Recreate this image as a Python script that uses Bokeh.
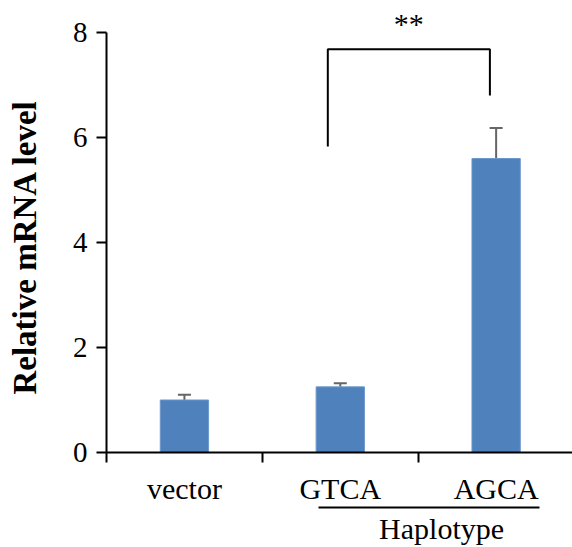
from bokeh.plotting import figure
from bokeh.models import (Range1d, LinearAxis, FixedTicker, ColumnDataSource,
                          Whisker, TeeHead)
from bokeh.core.properties import value
from bokeh.embed import file_html
from bokeh.resources import INLINE

# ---- data ----
categories = ["vector", "GTCA", "AGCA"]
means = [1.0, 1.25, 5.6]
errors = [0.10, 0.07, 0.58]
y_ticks = [0, 2, 4, 6, 8]
group_label = "Haplotype"
group_members = ["GTCA", "AGCA"]
sig_pair = ["GTCA", "AGCA"]
sig_text = "**"
sig_heights = [5.83, 7.68, 6.8]   # left leg bottom, bracket top, right leg bottom

FONT = "Liberation Serif"
BLUE = "#4F81BD"

xs = [i + 0.5 for i in range(len(categories))]
uppers = [m + e for m, e in zip(means, errors)]
src = ColumnDataSource(dict(x=xs, top=means, upper=uppers, cat=categories))

p = figure(frame_width=466, frame_height=444, output_backend="svg", toolbar_location=None,
           x_range=Range1d(0, 2.99), y_range=Range1d(0, 8.457),
           min_border_left=106, min_border_top=8, min_border_right=0,
           min_border_bottom=0, x_axis_type=None, y_axis_type=None)
p.outline_line_color = None
p.xgrid.visible = False
p.ygrid.visible = False
p.background_fill_color = "white"

# bars
p.vbar(x="x", top="top", width=0.31, bottom=0, source=src,
       fill_color=BLUE, line_color="#6E98CC", line_width=1)

# error bars (upper only)
w = Whisker(base="x", lower="top", upper="upper", source=src,
            line_color="#666666", line_width=2, lower_head=None,
            upper_head=TeeHead(size=13, line_color="#666666", line_width=2))
p.add_layout(w)

# significance bracket
i0 = categories.index(sig_pair[0])
i1 = categories.index(sig_pair[1])
bx0 = xs[i0] - 0.08
bx1 = xs[i1] - 0.04
p.line([bx0, bx0, bx1, bx1], sig_heights[0:1] + sig_heights[1:2] * 2 + sig_heights[2:3],
       line_color="black", line_width=2)
p.text(x=[(bx0 + bx1) / 2], y=[sig_heights[1] + 0.5], text=[sig_text],
       text_font=value(FONT), text_font_size="30px", text_align="center",
       text_baseline="alphabetic", text_color="black")

# y axis
yax = LinearAxis(ticker=FixedTicker(ticks=y_ticks), bounds=(0, 8))
yax.axis_label = "Relative mRNA level" + "\u00a0" * 4
yax.axis_label_text_font = FONT
yax.axis_label_text_font_style = "bold"
yax.axis_label_text_font_size = "33px"
yax.axis_label_text_color = "black"
yax.axis_label_standoff = 27
yax.major_label_text_font = FONT
yax.major_label_text_font_size = "29px"
yax.major_label_text_color = "black"
yax.major_label_standoff = 9
yax.major_tick_out = 10
yax.major_tick_in = 0
yax.minor_tick_line_color = None
yax.axis_line_width = 2
yax.major_tick_line_width = 2
p.add_layout(yax, "left")

# x axis: labels at centers, ticks at category boundaries
xax = LinearAxis(ticker=FixedTicker(ticks=xs, minor_ticks=list(range(len(categories) + 1))))
xax.major_label_overrides = {x: c for x, c in zip(xs, categories)}
xax.major_label_text_font = FONT
xax.major_label_text_font_size = "30px"
xax.major_label_text_color = "black"
xax.major_label_standoff = 9
xax.major_tick_line_color = None
xax.major_tick_out = 10
xax.minor_tick_out = 10
xax.minor_tick_in = 0
xax.minor_tick_line_width = 2
xax.minor_tick_line_color = "black"
xax.axis_line_width = 2
p.add_layout(xax, "below")

# group axis (Haplotype line + label)
g_idx = [categories.index(g) for g in group_members]
g_lo = xs[g_idx[0]] - 0.14
g_hi = xs[g_idx[-1]] + 0.28
g_mid = 2.15
gax = LinearAxis(ticker=FixedTicker(ticks=[g_mid]), bounds=(g_lo, g_hi))
gax.major_label_overrides = {g_mid: group_label}
gax.major_label_text_font = FONT
gax.major_label_text_font_size = "30px"
gax.major_label_text_color = "black"
gax.major_label_standoff = 4
gax.major_tick_line_color = None
gax.major_tick_out = 0
gax.minor_tick_line_color = None
gax.axis_line_width = 2
p.add_layout(gax, "below")

open("out.html", "w").write(file_html(p, INLINE))
